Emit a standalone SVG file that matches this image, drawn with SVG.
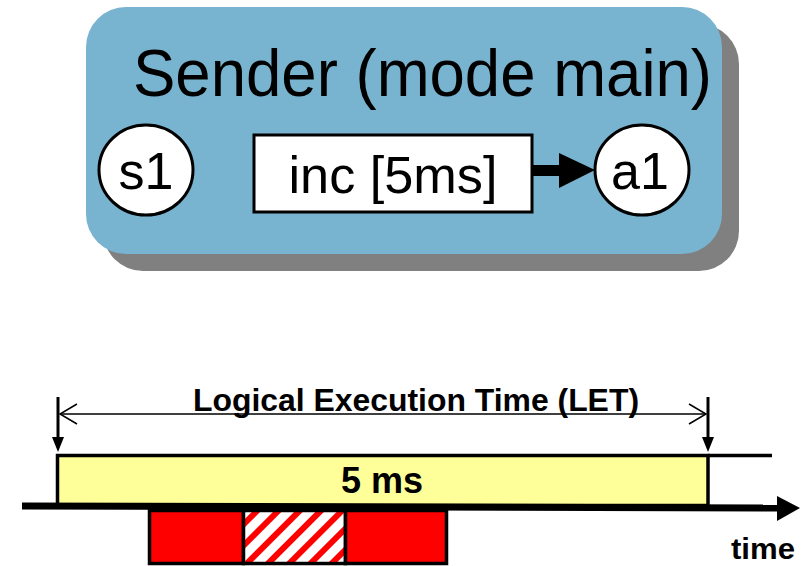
<svg xmlns="http://www.w3.org/2000/svg" width="806" height="566" viewBox="0 0 806 566">
  <defs>
    <style>
      .t { font-family: "Liberation Sans", Arial, sans-serif; fill: #000; }
      .b { font-weight: bold; }
      .node { fill: #fff; stroke: #000; stroke-width: 3; }
    </style>
    <pattern id="hatch" patternUnits="userSpaceOnUse" width="15" height="15" patternTransform="rotate(45)">
      <rect width="15" height="15" fill="#fff"/>
      <rect width="6" height="15" fill="#f00"/>
    </pattern>
  </defs>

  <!-- mode box -->
  <g id="mode-sender">
    <rect x="103" y="24" width="636" height="247" rx="40" fill="#808080"/>
    <rect x="86" y="7" width="636" height="247" rx="40" fill="#78b3d0"/>
    <text class="t" x="133" y="96" font-size="66" textLength="579" lengthAdjust="spacingAndGlyphs">Sender (mode main)</text>
  </g>

  <g id="s1">
    <ellipse class="node" cx="146" cy="170" rx="47" ry="45"/>
    <text class="t" x="146" y="189" font-size="52" text-anchor="middle">s1</text>
  </g>

  <g id="task-inc">
    <rect class="node" x="254" y="135" width="278" height="77"/>
    <text class="t" x="393" y="193" font-size="52" text-anchor="middle" textLength="209" lengthAdjust="spacingAndGlyphs">inc [5ms]</text>
  </g>

  <g id="a1">
    <ellipse class="node" cx="642" cy="170" rx="47" ry="45"/>
    <text class="t" x="640" y="189" font-size="52" text-anchor="middle">a1</text>
  </g>

  <g id="connectors">
    <rect x="532" y="165" width="29" height="11"/>
    <polygon points="559,153 595,170 559,188" fill="#000"/>
  </g>

  <!-- timeline -->
  <g id="timeline">
    <!-- LET dimension -->
    <line x1="58" y1="397" x2="58" y2="440" stroke="#000" stroke-width="3"/>
    <polygon points="52,437 64,437 58,452" fill="#000"/>
    <line x1="708" y1="397" x2="708" y2="440" stroke="#000" stroke-width="3"/>
    <polygon points="702,437 714,437 708,452" fill="#000"/>
    <line x1="60" y1="414" x2="706" y2="414" stroke="#000" stroke-width="1.5"/>
    <polyline points="77,404 60,414 77,424" fill="none" stroke="#000" stroke-width="1.5"/>
    <polyline points="689,404 706,414 689,424" fill="none" stroke="#000" stroke-width="1.5"/>
    <text class="t b" x="416" y="411" font-size="32" text-anchor="middle" textLength="446" lengthAdjust="spacingAndGlyphs">Logical Execution Time (LET)</text>

    <!-- LET slot -->
    <rect x="57.5" y="455.5" width="650.5" height="50" fill="#ffff99" stroke="#000" stroke-width="3.5"/>
    <line x1="708" y1="455.5" x2="772" y2="455.5" stroke="#000" stroke-width="3.5"/>
    <text class="t b" x="382" y="493" font-size="36" text-anchor="middle">5 ms</text>

    <!-- time axis -->
    <line x1="22" y1="506" x2="779" y2="508" stroke="#000" stroke-width="7"/>
    <polygon points="777,496 800,508 777,521" fill="#000"/>
    <text class="t b" x="731" y="559" font-size="29" textLength="64" lengthAdjust="spacingAndGlyphs">time</text>

    <!-- execution pieces -->
    <rect x="149.5" y="510.5" width="94" height="53" fill="#f00" stroke="#000" stroke-width="3.5"/>
    <rect x="243.5" y="510.5" width="102" height="53" fill="url(#hatch)" stroke="#000" stroke-width="3.5"/>
    <rect x="345.5" y="510.5" width="101" height="53" fill="#f00" stroke="#000" stroke-width="3.5"/>
  </g>
</svg>
